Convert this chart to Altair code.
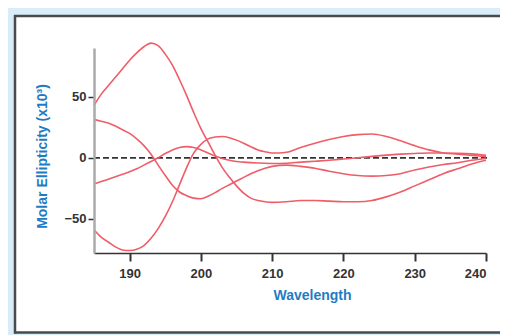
import altair as alt
import pandas as pd

# ---- data ----
wl_a = [185,186,187,188,189,190,191,192,193,194,195,196,197,198,199,200,201,202,203,204,205,206,207,208,209,210,212,214,216,218,220,222,224,226,228,230,232,234,236,238,240]
val_a = [43,52,59,66,73,80,86,91,94,92,85,76,64,51,37,24,13,2,-8,-16,-23,-29,-33,-35,-36,-36.5,-36,-35,-35,-35.5,-36,-36,-35,-32,-28,-23,-18,-13,-9,-5,-2]

wl_b = [185,186,187,188,189,190,191,192,193,194,195,196,197,198,199,200,201,202,203,204,205,206,207,208,209,210,212,214,216,218,220,222,224,226,228,230,232,234,236,238,240]
val_b = [31.5,30,28.5,26,23,20,15.5,10,3,-6,-14.5,-22.5,-28,-31,-33,-33.5,-31.5,-28.5,-25,-22,-19,-16,-13,-10.5,-8.5,-7,-6,-7,-8.5,-11,-13,-14.5,-15,-14.5,-13,-10,-7.5,-5.5,-4,-2,-0.5]

wl_c = [185,186,187,188,189,190,191,192,193,194,195,196,197,198,199,200,201,202,203,204,205,206,208,210,212,214,216,218,220,222,224,226,228,230,232,234,236,238,240]
val_c = [-21.5,-19.5,-17.5,-15.5,-13.5,-11.5,-9,-6,-3,0,3.5,6.5,8.5,9.2,8.5,6.5,4,1.5,-0.5,-2,-3,-3.5,-4.2,-4.6,-4.4,-3.5,-2.8,-2,-1,0,1.2,2.2,3,3.6,4,4,3.8,3.2,2]

wl_d = [185,186,187,188,189,190,191,192,193,194,195,196,197,198,199,200,201,202,203,204,205,206,207,208,209,210,211,212,214,216,218,220,222,224,226,228,230,232,234,236,238,240]
val_d = [-59,-65,-69,-73,-75.5,-76,-75,-72,-66,-58,-48,-36,-22,-8,4,11,15.5,17,17.5,16.5,14.5,12,9,6.5,5,4,4,4.5,8.5,12,15,17.5,19,19.5,17.5,14,10,6.5,4,3,2,1]

x_ticks = [190, 200, 210, 220, 230, 240]
y_ticks = [-50, 0, 50]

rows = []
for name, wls, vals in [("A", wl_a, val_a), ("B", wl_b, val_b), ("C", wl_c, val_c), ("D", wl_d, val_d)]:
    for w, v in zip(wls, vals):
        rows.append({"series": name, "wavelength": w, "value": v})
df = pd.DataFrame(rows)

W, H = 392, 205
BLUE = "#1f7cc4"
DARK = "#333333"
FONT = "Liberation Sans"
BORDER = "#4a4a4a"

xscale = alt.Scale(domain=[185, 240], nice=False, zero=False)
yscale = alt.Scale(domain=[-78, 90], nice=False, zero=False)

one = alt.Data(values=[{}])

frame_fill = alt.Chart(one).mark_rect(fill="white").encode(
    x=alt.value(-79), x2=alt.value(W + 20), y=alt.value(-32), y2=alt.value(284.5)
)
border_left = alt.Chart(one).mark_rule(color=BORDER, strokeWidth=2.5).encode(
    x=alt.value(-79), y=alt.value(-33), y2=alt.value(285.5)
)
border_top = alt.Chart(one).mark_rule(color=BORDER, strokeWidth=2.5).encode(
    y=alt.value(-32), x=alt.value(-80), x2=alt.value(W + 20)
)
border_bottom = alt.Chart(one).mark_rule(color=BORDER, strokeWidth=2.5).encode(
    y=alt.value(284.5), x=alt.value(-80), x2=alt.value(W + 20)
)

zero = alt.Chart(one).mark_rule(
    color=DARK, strokeWidth=1.8, strokeDash=[6, 3]
).encode(
    y=alt.datum(0, scale=yscale), x=alt.value(0), x2=alt.value(W + 4)
)

lines = alt.Chart(df).mark_line(
    color="#ef5d68", strokeWidth=1.6, interpolate="monotone"
).encode(
    x=alt.X("wavelength:Q", scale=xscale,
            axis=alt.Axis(values=x_ticks, grid=False, title="Wavelength", zindex=2,
                          labelFont=FONT, labelFontSize=13, labelFontWeight="bold",
                          labelColor=DARK, labelPadding=6, tickSize=8, tickColor=DARK,
                          tickWidth=2, domainColor=DARK, domainWidth=1.5,
                          titleFont=FONT, titleFontSize=14, titleFontWeight="bold",
                          titleColor=BLUE, titleX=218, titleY=42, titleAlign="center",
                          titleBaseline="middle")),
    y=alt.Y("value:Q", scale=yscale,
            axis=alt.Axis(values=y_ticks, grid=False, title="Molar Ellipticity (x10³)", zindex=2,
                          labelFont=FONT, labelFontSize=13, labelFontWeight="bold",
                          labelColor=DARK, labelPadding=2, tickSize=6, tickColor=DARK,
                          tickWidth=1.5, domainColor="#aaaaaa", domainWidth=2.5,
                          titleFont=FONT, titleFontSize=14, titleFontWeight="bold",
                          titleColor=BLUE, titleX=-52, titleY=108, titleAngle=270,
                          titleAlign="center", titleBaseline="middle")),
    detail="series:N",
)

chart = alt.layer(frame_fill, border_left, border_top, border_bottom, zero, lines).properties(
    width=W, height=H,
    padding={"left": 86, "top": 40, "right": 14, "bottom": 82},
    autosize=alt.AutoSizeParams(type="none"),
    background="#d8edf9",
).configure_view(stroke=None)

chart.save("out.html", embed_options={"renderer": "svg", "actions": False})
